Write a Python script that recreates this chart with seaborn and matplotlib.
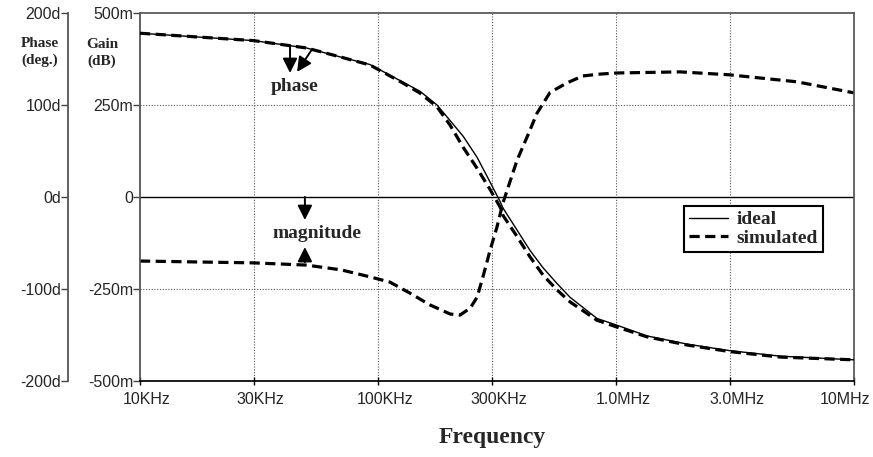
import numpy as np
import pandas as pd
import matplotlib
matplotlib.use('Agg')
import matplotlib.pyplot as plt
import matplotlib.transforms as mtransforms
import seaborn as sns

# phase response (degrees)
freq_phase = [10e3, 30e3, 50e3, 70e3, 92.5e3, 127e3, 150e3, 177e3, 201e3, 228e3,
              261e3, 296e3, 326e3, 335e3, 384e3, 435e3, 494e3, 565e3, 641e3,
              832e3, 1e6, 1.35e6, 2e6, 3e6, 4.9e6, 10e6]
phase_ideal = [178, 170, 162, 152, 144, 125, 115, 100, 83, 66,
               43, 16, -5, -12, -36, -58, -77, -94, -109,
               -132, -139, -151, -160, -167, -173, -177]
phase_sim = [178, 170, 162, 152, 143.5, 124, 113, 98, 78, 54,
             31, 8, -11, -20, -43, -65, -85, -101, -114,
             -134, -141, -152, -161, -168, -174, -177]

# magnitude response (dB), simulated
freq_mag = [10e3, 30e3, 50e3, 70e3, 92.5e3, 112e3, 136e3, 165e3, 201e3, 221e3,
            244e3, 261e3, 276e3, 296e3, 316e3, 335e3, 384e3, 423e3, 466e3, 528e3,
            622e3, 726e3, 857e3, 1.01e6, 1.86e6, 3e6, 5.76e6, 10e6]
mag_sim = [-0.174, -0.179, -0.185, -0.198, -0.217, -0.231, -0.261, -0.293, -0.318, -0.321,
           -0.302, -0.272, -0.217, -0.144, -0.082, -0.016, 0.1, 0.163, 0.228, 0.284,
           0.31, 0.329, 0.334, 0.337, 0.34, 0.332, 0.313, 0.283]

x_ticks = [10e3, 30e3, 100e3, 300e3, 1e6, 3e6, 10e6]
x_labels = ['10KHz', '30KHz', '100KHz', '300KHz', '1.0MHz', '3.0MHz', '10MHz']
gain_ticks = [0.5, 0.25, 0, -0.25, -0.5]
gain_labels = ['500m', '250m', '0', '-250m', '-500m']
phase_ticks = [200, 100, 0, -100, -200]
phase_labels = ['200d', '100d', '0d', '-100d', '-200d']

sns.set_theme(style='white')
plt.rcParams['font.family'] = ['Liberation Sans', 'DejaVu Sans']
serif = ['Liberation Serif', 'DejaVu Serif']

W, H = 873, 457
fig = plt.figure(figsize=(W / 100, H / 100), dpi=100)
ax = fig.add_axes([140 / W, 1 - 381 / H, (854 - 140) / W, (381 - 13) / H])
ax2 = ax.twinx()

ax.set_xscale('log')
ax.set_xlim(10e3, 10e6)
ax.set_ylim(-0.5, 0.5)
ax2.set_ylim(-200, 200)

dash = (0, (3.2, 1.7))
df_ph = pd.DataFrame({'f': freq_phase, 'ideal': phase_ideal, 'sim': phase_sim})
df_mag = pd.DataFrame({'f': freq_mag, 'mag': mag_sim})

sns.lineplot(data=df_mag, x='f', y='mag', ax=ax, color='black', lw=2.3,
             linestyle=dash, estimator=None)
sns.lineplot(data=df_ph, x='f', y='ideal', ax=ax2, color='black', lw=1.0,
             estimator=None, label='ideal')
sns.lineplot(data=df_ph, x='f', y='sim', ax=ax2, color='black', lw=2.3,
             linestyle=dash, estimator=None, label='simulated')

# grid
for xt in x_ticks[1:-1]:
    ax.axvline(xt, color='#555555', lw=0.8, ls=(0, (1, 1.5)), zorder=0)
for yt in [0.25, -0.25]:
    ax.axhline(yt, color='#555555', lw=0.8, ls=(0, (1, 1.5)), zorder=0)
ax.axhline(0, color='black', lw=1.0, zorder=1)

# axes styling
ax.set_xticks(x_ticks)
ax.set_xticklabels(x_labels)
ax.minorticks_off()
ax.set_yticks(gain_ticks)
ax.set_yticklabels(gain_labels)
ax2.set_yticks(phase_ticks)
ax2.set_yticklabels(phase_labels)
ax.set_xlabel('')
ax.set_ylabel('')
ax2.set_ylabel('')
ax.tick_params(axis='x', direction='inout', length=6, width=1, color='black',
               labelsize=11.5, pad=5, bottom=True)
ax.tick_params(axis='y', direction='out', length=5, width=1, color='#444444',
               labelsize=11.5, pad=0, left=True)
ax2.yaxis.set_ticks_position('left')
ax2.yaxis.set_label_position('left')
ax2.spines['left'].set_position(('outward', 72 * 0.72))
ax2.tick_params(axis='y', direction='out', length=5, width=1, color='#444444',
                labelsize=11.5, pad=0, left=True, right=False)
for s in ['top', 'right', 'bottom']:
    ax2.spines[s].set_visible(False)
ax2.spines['left'].set_color('#555555')
ax2.spines['left'].set_linewidth(1.3)
ax.spines['left'].set_color('#555555')
ax.spines['left'].set_linewidth(1.3)
ax.spines['top'].set_color('#555555')
ax.spines['right'].set_color('#555555')
ax.spines['bottom'].set_color('black')
for s in ax.spines.values():
    s.set_visible(True)

# x tick labels sit a little right of their ticks, the last one left
labels = ax.get_xticklabels()
for i, lab in enumerate(labels):
    dx = -9 if i == len(labels) - 1 else 7
    lab.set_transform(lab.get_transform() +
                      mtransforms.ScaledTranslation(dx / 100, 0, fig.dpi_scale_trans))

# axis titles
fig.text(40 / W, 1 - 52 / H, 'Phase\n(deg.)', family=serif, weight='bold',
         fontsize=11, ha='center', va='center', linespacing=1.3)
fig.text(102 / W, 1 - 53 / H, 'Gain\n(dB)', family=serif, weight='bold',
         fontsize=11, ha='center', va='center', linespacing=1.3)
fig.text(492 / W, 1 - 438 / H, 'Frequency', family=serif, weight='bold',
         fontsize=17, ha='center', va='center')

# annotations
arw = dict(arrowstyle='-|>', mutation_scale=22, color='black', lw=1.4,
           shrinkA=0, shrinkB=0)
ax.annotate('', xy=(42.7e3, 0.337), xytext=(42.7e3, 0.413), arrowprops=arw)
ax.annotate('', xy=(45.7e3, 0.34), xytext=(52.9e3, 0.402), arrowprops=arw)
ax.text(44.8e3, 0.299, 'phase', family=serif, weight='bold', fontsize=14,
        ha='center', va='center')
ax.annotate('', xy=(49.3e3, -0.0625), xytext=(49.3e3, 0.0), arrowprops=arw)
ax.annotate('', xy=(49.3e3, -0.136), xytext=(49.3e3, -0.177), arrowprops=arw)
ax.text(55.5e3, -0.098, 'magnitude', family=serif, weight='bold', fontsize=14,
        ha='center', va='center')

leg = ax2.legend(loc='upper left', bbox_to_anchor=(0.762, 0.4755), borderaxespad=0,
                 frameon=True, fancybox=False, handlelength=2.0, handletextpad=0.45,
                 borderpad=0.25, labelspacing=0.05,
                 prop={'family': serif, 'weight': 'bold', 'size': 14})
leg.get_frame().set_edgecolor('black')
leg.get_frame().set_linewidth(1.5)
leg.get_frame().set_alpha(1)

fig.savefig('out.png', dpi=100, facecolor='white')
